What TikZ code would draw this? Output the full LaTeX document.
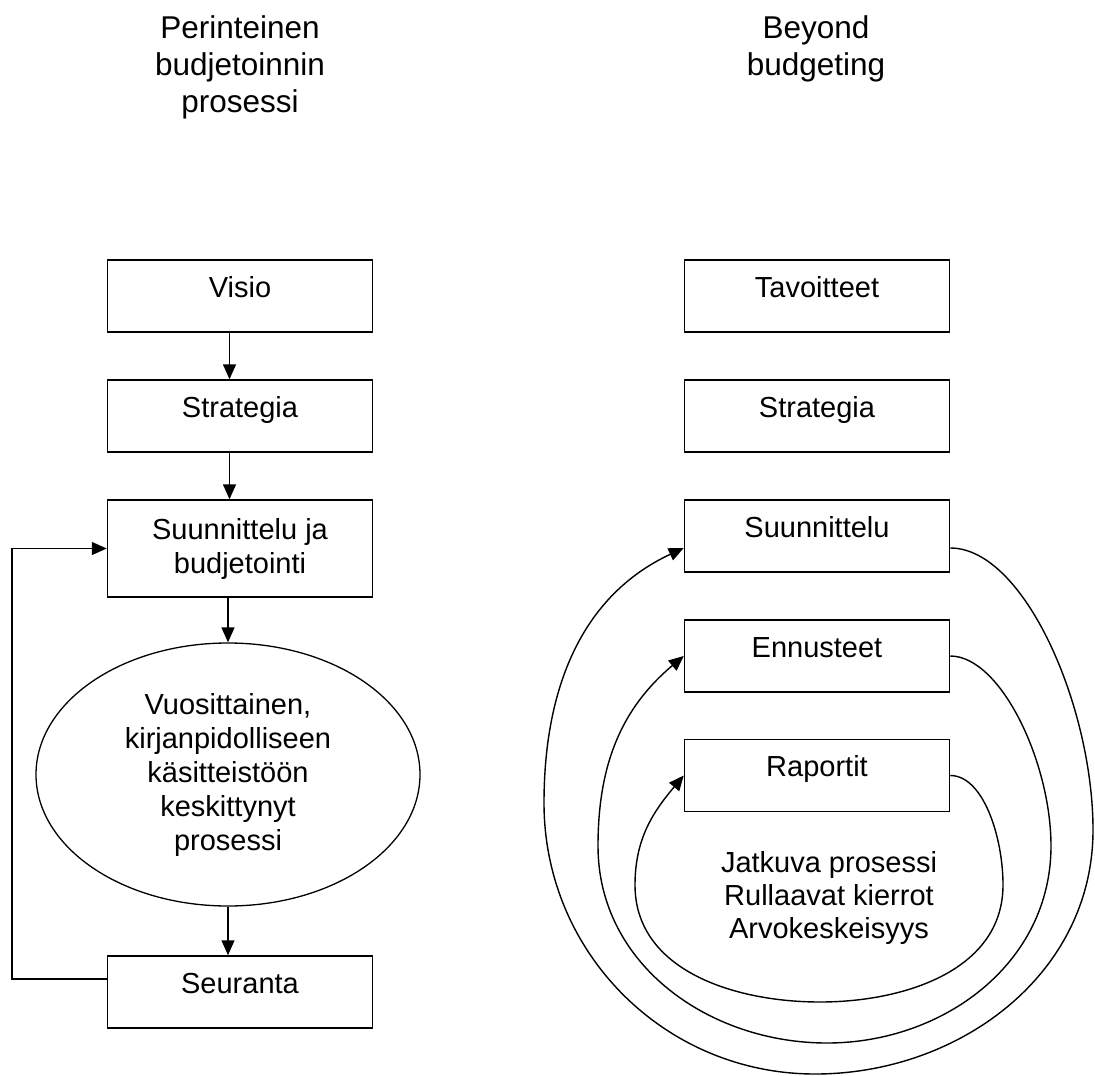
\documentclass[tikz,border=0pt]{standalone}
\usepackage{fontspec}
\setmainfont{Liberation Sans}
\usetikzlibrary{shapes.geometric,arrows.meta}

\begin{document}
\begin{tikzpicture}[x=1pt,y=-1pt]
\tikzset{laatikko/.style={draw, rectangle, line width=1.5pt, minimum width=265pt, minimum height=72pt, inner sep=0pt, align=center, font=\fontsize{29}{34}\selectfont}}
\tikzset{rivi/.style={text height=21pt, text depth=19pt}}
\tikzset{otsikko/.style={anchor=north, inner sep=0pt, align=center, font=\fontsize{31.5}{37}\selectfont}}
\tikzset{nuoli/.style={line width=1.5pt, -{Triangle[length=15pt,width=13pt]}}}
\tikzset{kaari/.style={line width=1.4pt, -{Triangle[length=15pt,width=13pt]}}}
\useasboundingbox (0,0) rectangle (1095,1076);
\node[otsikko] (P0) at (240,15) {Perinteinen\\budjetoinnin\\prosessi};
\node[otsikko] (B0) at (816,15) {Beyond\\budgeting};
\node[laatikko, rivi] (P1) at (240,296) {Visio};
\node[laatikko, rivi] (P2) at (240,416) {Strategia};
\node[laatikko, minimum height=97pt] (P3) at (240,548.5) {Suunnittelu ja\\budjetointi};
\node[draw, ellipse, line width=1.3pt, minimum width=384pt, minimum height=263pt, inner sep=0pt, align=center, font=\fontsize{29}{34}\selectfont] (P4) at (228,774.5) {Vuosittainen,\\kirjanpidolliseen\\käsitteistöön\\keskittynyt\\prosessi};
\node[laatikko, rivi] (P5) at (240,992) {Seuranta};
\node[laatikko, rivi] (B1) at (817,296) {Tavoitteet};
\node[laatikko, rivi] (B2) at (817,416) {Strategia};
\node[laatikko, rivi] (B3) at (817,536) {Suunnittelu};
\node[laatikko, rivi] (B4) at (817,656) {Ennusteet};
\node[laatikko, rivi] (B5) at (817,775.5) {Raportit};
\node[anchor=north, inner sep=0pt, align=center, font=\fontsize{29}{33}\selectfont] (B6) at (829,851) {Jatkuva prosessi\\Rullaavat kierrot\\Arvokeskeisyys};
\draw[nuoli] ([xshift=-10.5pt]P1.south) -- ([xshift=-10.5pt]P2.north);
\draw[nuoli] ([xshift=-10.5pt]P2.south) -- ([xshift=-10.5pt]P3.north);
\draw[nuoli] (P3.south -| P4.north) -- (P4.north);
\draw[nuoli] (P4.south) -- (P4.south |- P5.north);
\draw[nuoli] ([yshift=13pt]P5.west) -- ++(-95,0) |- (P3.west);
\draw[kaari] ([yshift=-12pt]B3.east) to[out=0,in=90,out looseness=0.6] (1093,830) to[out=-90,in=0] (815,1074) to[out=180,in=-90] (544,803) to[out=90,in=205] ([yshift=-12pt]B3.west);
\draw[kaari] (B4.east) to[out=0,in=90,out looseness=0.6] (1051,846) to[out=-90,in=0] (827,1043) to[out=180,in=-90] (598,846) to[out=90,in=220] (B4.west);
\draw[kaari] (B5.east) to[out=0,in=90,out looseness=0.7] (1003,885) to[out=-90,in=0] (820,1002) to[out=180,in=-90] (635,885) to[out=90,in=230] (B5.west);
\end{tikzpicture}
\end{document}
